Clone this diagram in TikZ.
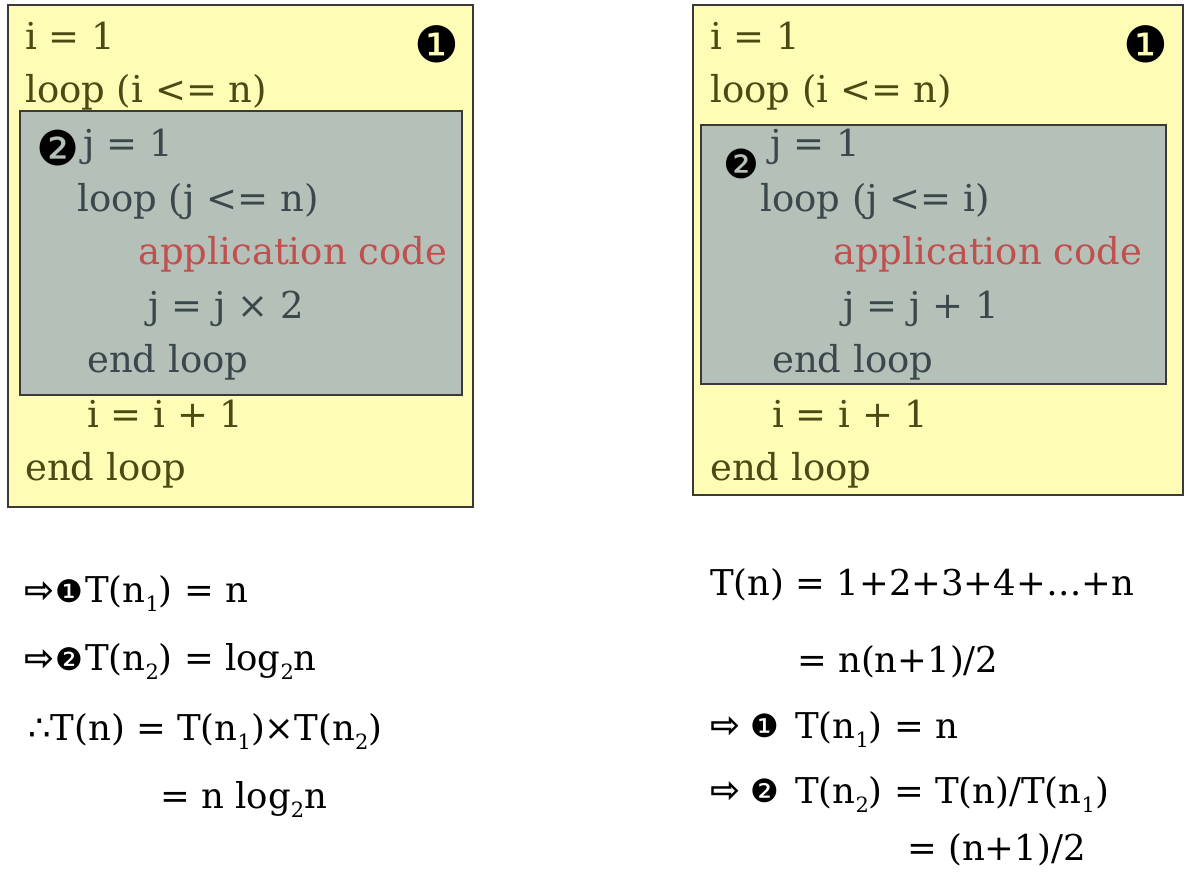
\documentclass[tikz,border=0pt]{standalone}
\usepackage{fontspec}
\setmainfont{DejaVu Serif}
\newfontfamily\symfont{DejaVu Sans}
\definecolor{boxyellow}{HTML}{FFFDB5}
\definecolor{boxgray}{HTML}{B4C0B8}
\definecolor{edgecol}{HTML}{3A3A3A}
\definecolor{olivetext}{HTML}{4C4A14}
\definecolor{slatetext}{HTML}{3A484B}
\definecolor{redtext}{HTML}{C0504D}
\newcommand{\mysub}[1]{\raisebox{-0.28em}{\fontsize{21}{21}\selectfont #1}}
\begin{document}
\begin{tikzpicture}[x=1pt,y=-1pt,
  outerbox/.style={draw=edgecol,line width=1.3pt,fill=boxyellow},
  innerbox/.style={draw=edgecol,line width=1.3pt,fill=boxgray},
  codeo/.style={anchor=base west,inner sep=0pt,text=olivetext,font=\fontsize{37}{42}\selectfont},
  codeg/.style={anchor=base west,inner sep=0pt,text=slatetext,font=\fontsize{37}{42}\selectfont},
  coder/.style={anchor=base west,inner sep=0pt,text=redtext,font=\fontsize{37}{42}\selectfont},
  eq/.style={anchor=base west,inner sep=0pt,text=black,font=\fontsize{35.5}{40}\selectfont},
  badge/.style={inner sep=0pt,font=\symfont\fontsize{#1}{#1}\selectfont},
  arr/.style={inner sep=0pt,font=\symfont\bfseries\fontsize{36}{36}\selectfont}]
\useasboundingbox (0,0) rectangle (1190,884);
% left boxes
\draw[outerbox] (8,5) rectangle (473,507);
\draw[innerbox] (20,111) rectangle (462,395);
\node[codeo] (l1) at (25,49) {i = 1};
\node[codeo] (l2) at (25,102) {loop (i <= n)};
\node[codeg] (l3) at (83,156) {j = 1};
\node[codeg] (l4) at (77,211) {loop (j <= n)};
\node[coder] (l5) at (138,264) {application code};
\node[codeg] (l6) at (148,318) {j = j × 2};
\node[codeg] (l7) at (87,372) {end loop};
\node[codeo] (l8) at (87,427) {i = i + 1};
\node[codeo] (l9) at (25,480) {end loop};
\node[badge=50] (lb1) at (437,44) {❶};
\node[badge=48] (lb2) at (58,148) {❷};
% right boxes
\draw[outerbox] (693,5) rectangle (1183,495);
\draw[innerbox] (701,125) rectangle (1166,384);
\node[codeo] (r1) at (710,49) {i = 1};
\node[codeo] (r2) at (710,102) {loop (i <= n)};
\node[codeg] (r3) at (770,156) {j = 1};
\node[codeg] (r4) at (760,211) {loop (j <= i)};
\node[coder] (r5) at (833,264) {application code};
\node[codeg] (r6) at (843,318) {j = j + 1};
\node[codeg] (r7) at (772,372) {end loop};
\node[codeo] (r8) at (772,427) {i = i + 1};
\node[codeo] (r9) at (710,480) {end loop};
\node[badge=50] (rb1) at (1146,44) {❶};
\node[badge=40] (rb2) at (741,164) {❷};
% left equations
\node[arr] (la1) at (40,592) {⇨};
\node[badge=31] (lc1) at (69,591) {❶};
\node[eq] (le1) at (85,602) {T(n\mysub{1}) = n};
\node[arr] (la2) at (40,660) {⇨};
\node[badge=31] (lc2) at (69,659) {❷};
\node[eq] (le2) at (85,670) {T(n\mysub{2}) = log\mysub{2}n};
\node[eq] (le3) at (28,740) {{\symfont∴}T(n) = T(n\mysub{1})×T(n\mysub{2})};
\node[eq] (le4) at (160,808) {= n log\mysub{2}n};
% right equations
\node[eq] (re1) at (710,595) {T(n) = 1+2+3+4+…+n};
\node[eq] (re2) at (797,672) {= n(n+1)/2};
\node[arr] (ra1) at (726,727) {⇨};
\node[badge=32] (rc1) at (765,726) {❶};
\node[eq] (re3) at (795,738) {T(n\mysub{1}) = n};
\node[arr] (ra2) at (726,792) {⇨};
\node[badge=32] (rc2) at (765,791) {❷};
\node[eq] (re4) at (795,803) {T(n\mysub{2}) = T(n)/T(n\mysub{1})};
\node[eq] (re5) at (907,860) {= (n+1)/2};
\end{tikzpicture}
\end{document}
